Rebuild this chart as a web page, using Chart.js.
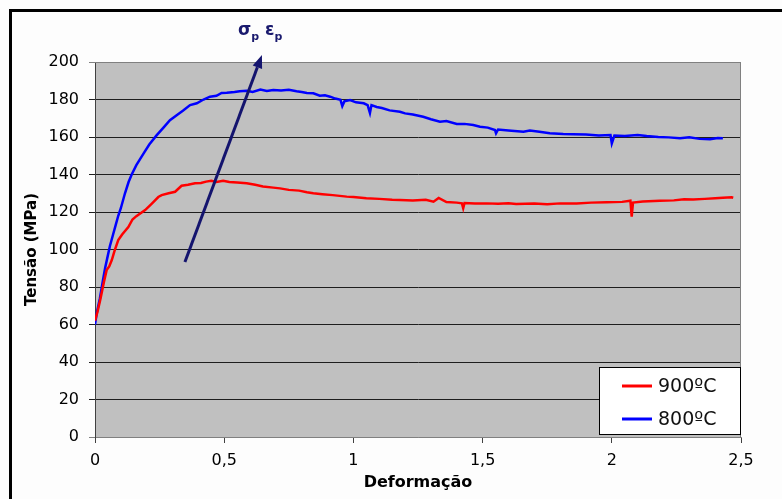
<!DOCTYPE html>
<html>
<head>
<meta charset="utf-8">
<script src="https://cdn.jsdelivr.net/npm/chart.js@4"></script>
<style>
  body { margin: 0; background: #fdfdfd; }
  canvas { display: block; }
</style>
</head>
<body>
<canvas id="flowChart" width="782" height="499"></canvas>
<script>
'use strict';

// series (deformation vs stress in MPa)
const redLabel = '900ºC';
const redStrain = [0, 0.01, 0.02, 0.026, 0.035, 0.045, 0.055, 0.065, 0.075, 0.09, 0.105, 0.129, 0.145, 0.16, 0.194,
  0.22, 0.245, 0.258, 0.285, 0.31, 0.335, 0.36, 0.387, 0.41, 0.43, 0.45, 0.47, 0.496, 0.52, 0.55, 0.587, 0.62,
  0.65, 0.69, 0.716, 0.75, 0.79, 0.82, 0.845, 0.88, 0.92, 0.974, 1.0, 1.05, 1.1, 1.15, 1.18, 1.23, 1.28, 1.31,
  1.33, 1.36, 1.4, 1.42, 1.425, 1.43, 1.47, 1.516, 1.56, 1.6, 1.63, 1.7, 1.75, 1.8, 1.864, 1.92, 1.98, 2.04,
  2.072, 2.077, 2.082, 2.12, 2.186, 2.24, 2.28, 2.315, 2.36, 2.4, 2.43, 2.464, 2.47];
const redStress = [62, 67, 73, 77, 83, 89, 91, 94.4, 99, 105, 108, 112, 116, 117.8, 121,
  124.5, 128, 129, 130, 130.8, 134, 134.5, 135.3, 135.5, 136.2, 136.7, 136, 136.7, 136, 135.7, 135.3, 134.5,
  133.6, 133, 132.6, 131.8, 131.4, 130.5, 130, 129.5, 129, 128.2, 128, 127.3, 127, 126.5, 126.4, 126.2, 126.5, 125.5,
  127.5, 125.3, 125, 124.6, 122, 124.8, 124.6, 124.6, 124.4, 124.6, 124.3, 124.5, 124.2, 124.6, 124.6, 125, 125.2, 125.4,
  126, 117.5, 125, 125.6, 126, 126.2, 126.8, 126.7, 127, 127.3, 127.6, 127.8, 127.6];

const blueLabel = '800ºC';
const blueStrain = [0, 0.008, 0.019, 0.03, 0.039, 0.05, 0.058, 0.07, 0.08, 0.09, 0.1, 0.116, 0.13, 0.142, 0.16,
  0.187, 0.21, 0.239, 0.265, 0.29, 0.32, 0.34, 0.368, 0.394, 0.42, 0.445, 0.47, 0.49, 0.51, 0.54, 0.56, 0.587,
  0.61, 0.64, 0.665, 0.69, 0.72, 0.75, 0.78, 0.8, 0.82, 0.845, 0.87, 0.89, 0.91, 0.93, 0.95, 0.957, 0.965,
  0.987, 1.01, 1.04, 1.055, 1.064, 1.07, 1.09, 1.11, 1.14, 1.18, 1.2, 1.23, 1.27, 1.3, 1.335, 1.36, 1.4, 1.43,
  1.464, 1.49, 1.52, 1.548, 1.552, 1.56, 1.6, 1.658, 1.683, 1.72, 1.76, 1.812, 1.85, 1.9, 1.95, 1.995, 2.0,
  2.01, 2.05, 2.1, 2.135, 2.18, 2.22, 2.264, 2.3, 2.34, 2.38, 2.41, 2.43];
const blueStress = [60, 67, 74, 83, 90, 97, 102, 108, 113, 118, 122, 130, 136, 140, 145,
  151, 156, 161, 165, 169, 172, 174, 177, 178, 180, 181.5, 182, 183.5, 183.6, 184, 184.4, 184.7,
  184, 185.3, 184.5, 185.1, 184.8, 185.2, 184.4, 184, 183.5, 183.3, 182, 182.3, 181.5, 180.5, 179.8, 176.5, 179,
  179.7, 178.5, 178, 177, 172.8, 177, 176, 175.5, 174.2, 173.5, 172.6, 172, 170.8, 169.5, 168.2, 168.5, 167, 167,
  166.4, 165.5, 165, 163.7, 162, 164, 163.5, 162.8, 163.4, 162.8, 162, 161.6, 161.5, 161.3, 160.8, 161, 156.6,
  160.8, 160.5, 161, 160.5, 160, 159.8, 159.3, 159.8, 159, 158.8, 159.5, 159.3];

// peak arrow annotation (data coordinates)
const arrowFrom = { x: 0.348, y: 93.3 };
const arrowTo = { x: 0.646, y: 203.7 };

const toPoints = (xs, ys) => xs.map((x, i) => ({ x: x, y: ys[i] }));

const tickFont = { family: 'DejaVu Sans', size: 16 };

const frameAndBackground = {
  id: 'frameAndBackground',
  beforeDraw(chart) {
    const ctx = chart.ctx;
    const a = chart.chartArea;
    ctx.save();
    ctx.fillStyle = '#fdfdfd';
    ctx.fillRect(0, 0, chart.width, chart.height);
    ctx.fillStyle = '#000';
    ctx.fillRect(9, 9, chart.width - 9, 3);
    ctx.fillRect(9, 9, 3, chart.height - 9);
    ctx.fillStyle = '#c0c0c0';
    ctx.fillRect(a.left, a.top, a.right - a.left, a.bottom - a.top);
    ctx.restore();
  },
  afterDatasetsDraw(chart) {
    const ctx = chart.ctx;
    const a = chart.chartArea;
    const xs = chart.scales.x, ys = chart.scales.y;
    ctx.save();
    // top and right plot edges
    ctx.strokeStyle = '#808080';
    ctx.lineWidth = 1;
    ctx.beginPath();
    ctx.moveTo(a.left, a.top + 0.5);
    ctx.lineTo(a.right - 0.5, a.top + 0.5);
    ctx.lineTo(a.right - 0.5, a.bottom);
    ctx.stroke();

    // arrow
    const x1 = xs.getPixelForValue(arrowFrom.x), y1 = ys.getPixelForValue(arrowFrom.y);
    const x2 = xs.getPixelForValue(arrowTo.x), y2 = ys.getPixelForValue(arrowTo.y);
    const ang = Math.atan2(y2 - y1, x2 - x1);
    const headLen = 13, headW = 5;
    const bx = x2 - headLen * Math.cos(ang), by = y2 - headLen * Math.sin(ang);
    ctx.strokeStyle = '#14146e';
    ctx.fillStyle = '#14146e';
    ctx.lineWidth = 3;
    ctx.beginPath();
    ctx.moveTo(x1, y1);
    ctx.lineTo(bx, by);
    ctx.stroke();
    ctx.beginPath();
    ctx.moveTo(x2, y2);
    ctx.lineTo(bx + headW * Math.sin(ang), by - headW * Math.cos(ang));
    ctx.lineTo(bx - headW * Math.sin(ang), by + headW * Math.cos(ang));
    ctx.closePath();
    ctx.fill();

    // σp εp label above the arrow tip
    ctx.fillStyle = '#1a1a6e';
    ctx.textBaseline = 'alphabetic';
    ctx.textAlign = 'left';
    let tx = x2 - 24;
    const ty = y2 - 20;
    ctx.font = 'bold 17px "DejaVu Sans"';
    ctx.fillText('σ', tx, ty);
    tx += ctx.measureText('σ').width;
    ctx.font = 'bold 11px "DejaVu Sans"';
    ctx.fillText('p', tx, ty + 5);
    tx += ctx.measureText('p').width + 6;
    ctx.font = 'bold 17px "DejaVu Sans"';
    ctx.fillText('ε', tx, ty);
    tx += ctx.measureText('ε').width;
    ctx.font = 'bold 11px "DejaVu Sans"';
    ctx.fillText('p', tx, ty + 5);

    // axis titles
    ctx.fillStyle = '#000';
    ctx.textAlign = 'center';
    ctx.textBaseline = 'middle';
    ctx.font = 'bold 16px "DejaVu Sans"';
    ctx.fillText('Deformação', 418, 483);
    ctx.save();
    ctx.translate(32, (a.top + a.bottom) / 2);
    ctx.rotate(-Math.PI / 2);
    ctx.font = 'bold 15px "DejaVu Sans"';
    ctx.fillText('Tensão (MPa)', 0, 0);
    ctx.restore();

    // legend box
    const lx = 599.5, ly = 367.5, lw = a.right - 0.5 - lx, lh = 67;
    ctx.fillStyle = '#fff';
    ctx.fillRect(lx, ly, lw, lh);
    ctx.strokeStyle = '#000';
    ctx.lineWidth = 1;
    ctx.strokeRect(lx, ly, lw, lh);
    ctx.font = '19px "DejaVu Sans"';
    ctx.textAlign = 'left';
    chart.data.datasets.forEach((ds, i) => {
      const yy = 386 + i * 33;
      ctx.strokeStyle = ds.borderColor;
      ctx.lineWidth = 3;
      ctx.beginPath();
      ctx.moveTo(622, yy);
      ctx.lineTo(652, yy);
      ctx.stroke();
      ctx.fillStyle = '#111';
      ctx.fillText(ds.label, 658, yy + 1);
    });
    ctx.restore();
  }
};

new Chart(document.getElementById('flowChart'), {
  type: 'line',
  plugins: [frameAndBackground],
  data: {
    datasets: [
      {
        label: redLabel,
        data: toPoints(redStrain, redStress),
        borderColor: '#ff0000',
        backgroundColor: '#ff0000',
        borderWidth: 2.5,
        pointRadius: 0,
        tension: 0
      },
      {
        label: blueLabel,
        data: toPoints(blueStrain, blueStress),
        borderColor: '#0000ff',
        backgroundColor: '#0000ff',
        borderWidth: 2.5,
        pointRadius: 0,
        tension: 0
      }
    ]
  },
  options: {
    responsive: false,
    devicePixelRatio: 1,
    animation: false,
    layout: { padding: { top: 62, right: 41, left: 0, bottom: 0 } },
    plugins: { legend: { display: false }, tooltip: { enabled: false } },
    scales: {
      x: {
        type: 'linear',
        min: 0,
        max: 2.5,
        afterFit: scale => { scale.height = 62; },
        ticks: {
          stepSize: 0.5,
          color: '#000',
          font: tickFont,
          padding: 8,
          maxRotation: 0,
          callback: v => String(v).replace('.', ',')
        },
        grid: { drawOnChartArea: false, tickLength: 6, color: '#404040' },
        border: { color: '#808080', width: 1 }
      },
      y: {
        min: 0,
        max: 200,
        afterFit: scale => { scale.width = 95; },
        ticks: { stepSize: 20, color: '#000', font: tickFont, padding: 10 },
        grid: {
          tickLength: 6,
          color: c => (c.tick && (c.tick.value === 0 || c.tick.value === 200)) ? '#808080' : '#1e1e1e',
          lineWidth: 1
        },
        border: { color: '#404040', width: 1 }
      }
    }
  }
});
</script>
</body>
</html>
